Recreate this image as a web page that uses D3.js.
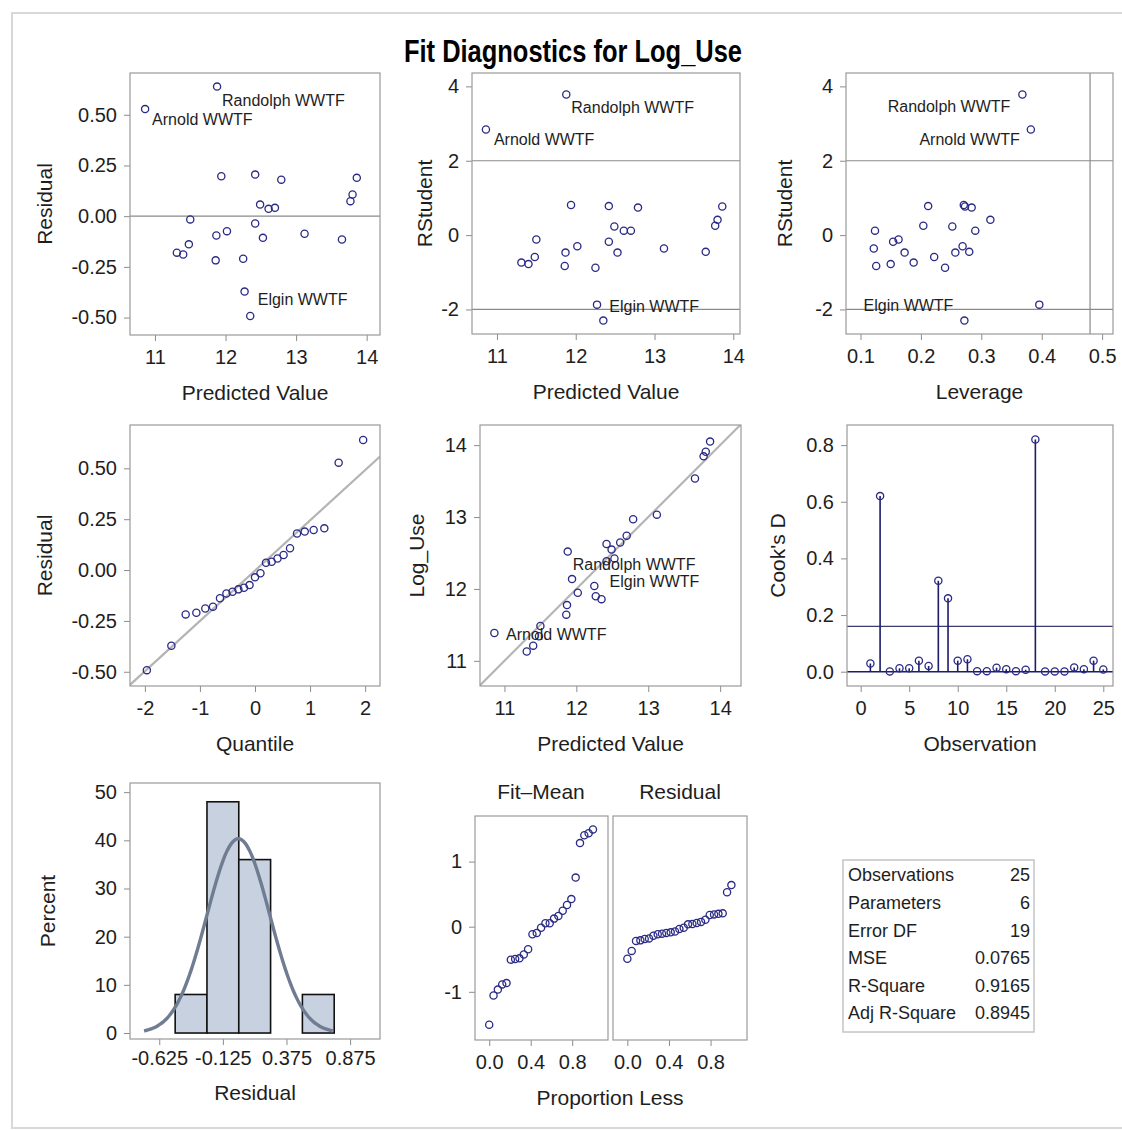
<!DOCTYPE html>
<html><head><meta charset="utf-8">
<script src="https://cdn.jsdelivr.net/npm/d3@7"></script>
<style>
body{margin:0;background:#fff;}
svg text{font-family:"Liberation Sans",Arial,Helvetica,sans-serif;fill:#1e1e1e;}
</style></head><body>
<svg id="chart" width="1122" height="1130"></svg>
<script>
// ---------------- DATA ----------------
// observations ordered by predicted value
const siteLabels = ["Arnold WWTF","","","","","","","Randolph WWTF","","","","","Elgin WWTF","","","","","","","","","","","",""];
const predicted = [10.86, 11.31, 11.40, 11.48, 11.50, 11.87, 11.86, 11.88, 11.94, 12.02, 12.25, 12.27, 12.35, 12.42, 12.42, 12.49, 12.53, 12.61, 12.70, 12.79, 13.12, 13.65, 13.77, 13.80, 13.86];
const residual  = [0.528, -0.180, -0.189, -0.139, -0.016, -0.095, -0.218, 0.639, 0.197, -0.074, -0.210, -0.372, -0.492, -0.036, 0.205, 0.057, -0.107, 0.036, 0.041, 0.180, -0.087, -0.115, 0.074, 0.107, 0.189];
const rstudent  = [2.84, -0.74, -0.78, -0.59, -0.12, -0.47, -0.83, 3.78, 0.81, -0.30, -0.88, -1.87, -2.30, -0.18, 0.78, 0.23, -0.47, 0.12, 0.12, 0.74, -0.36, -0.45, 0.25, 0.41, 0.77];
const leverage  = [0.382, 0.188, 0.150, 0.222, 0.163, 0.173, 0.126, 0.368, 0.271, 0.269, 0.240, 0.396, 0.272, 0.154, 0.212, 0.252, 0.257, 0.290, 0.124, 0.284, 0.122, 0.280, 0.204, 0.315, 0.273];
// Cook's D by observation number
const observationNo = [1,2,3,4,5,6,7,8,9,10,11,12,13,14,15,16,17,18,19,20,21,22,23,24,25];
const cooksD = [0.029, 0.620, 0.001, 0.012, 0.012, 0.039, 0.020, 0.321, 0.259, 0.039, 0.044, 0.002, 0.002, 0.014, 0.009, 0.002, 0.007, 0.820, 0.001, 0.001, 0.001, 0.015, 0.009, 0.039, 0.008];
// normal quantiles (Blom) for n = 25 as plotted
const normalQuantiles = [-1.964,-1.519,-1.259,-1.065,-0.903,-0.763,-0.636,-0.519,-0.408,-0.302,-0.200,-0.099,0,0.099,0.200,0.302,0.408,0.519,0.636,0.763,0.903,1.065,1.259,1.519,1.964];
const cooksThreshold = 0.16;
const rstudentLimits = [-2, 2];
const leverageCutoff = 0.48;
const histBinEdges = [-0.5, -0.25, 0, 0.25, 0.5, 0.75];
const histTickValues = [-0.625, -0.125, 0.375, 0.875];
const statLabels = ["Observations","Parameters","Error DF","MSE","R-Square","Adj R-Square"];
const statValues = ["25","6","19","0.0765","0.9165","0.8945"];
const titleText = "Fit Diagnostics for Log_Use";

// ---------------- DRAWING ----------------
const svg = d3.select('#chart');
const MARK = '#2a2a86';
const FRAME = '#9a9a9a';
const TICK_FS = 20, LABEL_FS = 21;
let clipN = 0;
const fx = n => d => d.toFixed(n);

// outer border
svg.append('rect').attr('x',12).attr('y',13).attr('width',1130).attr('height',1115)
  .attr('fill','none').attr('stroke','#d8d8d8').attr('stroke-width',2);

svg.append('text').attr('x',573).attr('y',62).attr('text-anchor','middle')
  .attr('font-size',31).attr('font-weight','bold').attr('textLength',338).attr('lengthAdjust','spacingAndGlyphs')
  .style('fill','#000').text(titleText);

function panel(c){
  const g = svg.append('g');
  const x = d3.scaleLinear().domain(c.xd).range([c.x0,c.x1]);
  const y = d3.scaleLinear().domain(c.yd).range([c.y1,c.y0]);
  const id = 'clip'+(clipN++);
  svg.append('clipPath').attr('id',id).append('rect')
    .attr('x',c.x0).attr('y',c.y0).attr('width',c.x1-c.x0).attr('height',c.y1-c.y0);
  const content = g.append('g').attr('clip-path',`url(#${id})`);
  const ax = g.append('g').attr('transform',`translate(0,${c.y1})`)
    .call(d3.axisBottom(x).tickValues(c.xt).tickFormat(c.xf).tickSize(6).tickPadding(c.xpad||9));
  styleAxis(ax);
  if(c.yt){
    const ay = g.append('g').attr('transform',`translate(${c.x0},0)`)
      .call(d3.axisLeft(y).tickValues(c.yt).tickFormat(c.yf).tickSize(6).tickPadding(7));
    styleAxis(ay);
  }
  g.append('rect').attr('x',c.x0).attr('y',c.y0).attr('width',c.x1-c.x0).attr('height',c.y1-c.y0)
    .attr('fill','none').attr('stroke',FRAME).attr('stroke-width',1.2);
  if(c.xl) g.append('text').attr('x',(c.x0+c.x1)/2).attr('y',c.y1+(c.xlo||58)).attr('dy','0.35em')
    .attr('text-anchor','middle').attr('font-size',LABEL_FS).text(c.xl);
  if(c.yl) g.append('text').attr('transform',`translate(${c.ylx},${(c.y0+c.y1)/2}) rotate(-90)`)
    .attr('dy','0.35em').attr('text-anchor','middle').attr('font-size',LABEL_FS).text(c.yl);
  return {g, content, x, y};
}
function styleAxis(a){
  a.attr('font-size',TICK_FS).attr('font-family',null);
  a.select('.domain').remove();
  a.selectAll('.tick line').attr('stroke','#8c8c8c');
  a.selectAll('.tick text').style('fill','#1e1e1e');
}
function hline(p, v, color, w){
  p.content.append('line').attr('x1',p.x.range()[0]).attr('x2',p.x.range()[1])
    .attr('y1',p.y(v)).attr('y2',p.y(v)).attr('stroke',color).attr('stroke-width',w||1);
}
function vline(p, v, color, w){
  p.content.append('line').attr('y1',p.y.range()[0]).attr('y2',p.y.range()[1])
    .attr('x1',p.x(v)).attr('x2',p.x(v)).attr('stroke',color).attr('stroke-width',w||1);
}
function markers(p, xs, ys){
  p.g.append('g').selectAll('circle').data(xs).join('circle')
    .attr('cx',(d,i)=>p.x(xs[i])).attr('cy',(d,i)=>p.y(ys[i])).attr('r',3.6)
    .attr('fill','none').attr('stroke',MARK).attr('stroke-width',1.3);
}
function pointLabels(p, xs, ys, offs){
  siteLabels.forEach((s,i)=>{
    if(!s) return;
    const o = offs[s];
    p.g.append('text').attr('x',p.x(xs[i])+o[0]).attr('y',p.y(ys[i])+o[1]).attr('dy','0.35em')
      .attr('text-anchor',o[2]).attr('font-size',16).text(s);
  });
}

const resTicks = [-0.5,-0.25,0,0.25,0.5];
const predTicks = [11,12,13,14];

// Panel 1: Residual vs Predicted
const p1 = panel({x0:130,x1:380,y0:73,y1:335,xd:[10.646,14.189],yd:[-0.586,0.706],
  xt:predTicks,xf:fx(0),yt:resTicks,yf:fx(2),xl:'Predicted Value',yl:'Residual',ylx:45});
hline(p1,0,'#8a8a8a',1.2);
markers(p1,predicted,residual);
pointLabels(p1,predicted,residual,{"Arnold WWTF":[7,10,'start'],"Randolph WWTF":[5,14,'start'],"Elgin WWTF":[7.5,-16.6,'start']});

// Panel 2: RStudent vs Predicted
const p2 = panel({x0:472,x1:740,y0:73,y1:334,xd:[10.683,14.085],yd:[-2.66,4.36],
  xt:predTicks,xf:fx(0),yt:[-2,0,2,4],yf:fx(0),xl:'Predicted Value',yl:'RStudent',ylx:425});
rstudentLimits.forEach(v=>hline(p2,v,'#8a8a8a',1.2));
markers(p2,predicted,rstudent);
pointLabels(p2,predicted,rstudent,{"Arnold WWTF":[8,10,'start'],"Randolph WWTF":[5,13,'start'],"Elgin WWTF":[6,-14.6,'start']});

// Panel 3: RStudent vs Leverage
const p3 = panel({x0:846,x1:1113,y0:73,y1:334,xd:[0.076,0.518],yd:[-2.66,4.36],
  xt:[0.1,0.2,0.3,0.4,0.5],xf:fx(1),yt:[-2,0,2,4],yf:fx(0),xl:'Leverage',yl:'RStudent',ylx:785});
rstudentLimits.forEach(v=>hline(p3,v,'#8a8a8a',1.2));
vline(p3,leverageCutoff,'#8a8a8a',1.2);
markers(p3,leverage,rstudent);
pointLabels(p3,leverage,rstudent,{"Arnold WWTF":[-11,9.5,'end'],"Randolph WWTF":[-12,12,'end'],"Elgin WWTF":[-11,-15,'end']});

// Panel 4: QQ plot of residuals
const sortedRes = residual.slice().sort(d3.ascending);
const p4 = panel({x0:130,x1:380,y0:425,y1:686,xd:[-2.27,2.27],yd:[-0.570,0.713],
  xt:[-2,-1,0,1,2],xf:fx(0),yt:resTicks,yf:fx(2),xl:'Quantile',yl:'Residual',ylx:45});
const rMean = d3.mean(residual), rSd = d3.deviation(residual);
p4.content.append('line').attr('x1',p4.x(-2.27)).attr('x2',p4.x(2.27))
  .attr('y1',p4.y(rMean-2.27*rSd)).attr('y2',p4.y(rMean+2.27*rSd)).attr('stroke','#b4b4b4').attr('stroke-width',2.2);
markers(p4,normalQuantiles,sortedRes);

// Panel 5: Observed vs Predicted
const observed = predicted.map((d,i)=>d+residual[i]);
const p5 = panel({x0:480,x1:741,y0:425,y1:686,xd:[10.66,14.29],yd:[10.65,14.28],
  xt:predTicks,xf:fx(0),yt:predTicks,yf:fx(0),xl:'Predicted Value',yl:'Log_Use',ylx:417});
p5.content.append('line').attr('x1',p5.x(10.6)).attr('y1',p5.y(10.6)).attr('x2',p5.x(14.3)).attr('y2',p5.y(14.3))
  .attr('stroke','#b4b4b4').attr('stroke-width',2.2);
markers(p5,predicted,observed);
pointLabels(p5,predicted,observed,{"Arnold WWTF":[11.6,1,'start'],"Randolph WWTF":[5,12.5,'start'],"Elgin WWTF":[8,-17.7,'start']});

// Panel 6: Cook's D
const p6 = panel({x0:847,x1:1113,y0:425,y1:686,xd:[-1.41,26.0],yd:[-0.0505,0.871],
  xt:[0,5,10,15,20,25],xf:fx(0),yt:[0,0.2,0.4,0.6,0.8],yf:fx(1),xl:'Observation',yl:"Cook's D",ylx:778});
hline(p6,cooksThreshold,'#3c3c6e',1.2);
hline(p6,0,'#1c1c6a',1.6);
p6.content.append('g').selectAll('line').data(cooksD).join('line')
  .attr('x1',(d,i)=>p6.x(observationNo[i])).attr('x2',(d,i)=>p6.x(observationNo[i]))
  .attr('y1',p6.y(0)).attr('y2',d=>p6.y(d)).attr('stroke','#1c1c6a').attr('stroke-width',1.6);
markers(p6,observationNo,cooksD);

// Panel 7: histogram of residuals
const bins = d3.bin().domain([histBinEdges[0],histBinEdges[histBinEdges.length-1]]).thresholds(histBinEdges.slice(1,-1))(residual);
const p7 = panel({x0:130,x1:380,y0:783,y1:1039,xd:[-0.855,1.11],yd:[-1.24,51.9],
  xt:histTickValues,xf:fx(3),yt:[0,10,20,30,40,50],yf:fx(0),xl:'Residual',yl:'Percent',ylx:48,xlo:54,xpad:6});
p7.content.append('g').selectAll('rect').data(bins).join('rect')
  .attr('x',d=>p7.x(d.x0)).attr('width',d=>p7.x(d.x1)-p7.x(d.x0))
  .attr('y',d=>p7.y(d.length/residual.length*100)).attr('height',d=>p7.y(0)-p7.y(d.length/residual.length*100))
  .attr('fill','#c8d1df').attr('stroke','#111').attr('stroke-width',1.6);
const binW = histBinEdges[1]-histBinEdges[0];
const curveX = d3.range(rMean-3*rSd, rMean+3*rSd+1e-9, rSd/20);
const dens = v => 100*binW*Math.exp(-0.5*((v-rMean)/rSd)**2)/(rSd*Math.sqrt(2*Math.PI));
p7.content.append('path').datum(curveX)
  .attr('d',d3.line().x(v=>p7.x(v)).y(v=>p7.y(dens(v))).curve(d3.curveBasis))
  .attr('fill','none').attr('stroke','#6f7c92').attr('stroke-width',3.4);

// Panel 8: residual-fit spread plot
const n = predicted.length;
const predMean = d3.mean(predicted);
const fitMinusMean = predicted.map(d=>d-predMean).sort(d3.ascending);
const propLess = d3.range(n).map(i=>i/(n-1));
const p8a = panel({x0:475,x1:608,y0:816,y1:1040,xd:[-0.137,1.145],yd:[-1.74,1.70],
  xt:[0,0.4,0.8],xf:fx(1),yt:[-1,0,1],yf:fx(0)});
markers(p8a,propLess,fitMinusMean);
const p8b = panel({x0:613,x1:747,y0:816,y1:1040,xd:[-0.138,1.15],yd:[-1.74,1.70],
  xt:[0,0.4,0.8],xf:fx(1)});
markers(p8b,propLess,sortedRes);
svg.append('text').attr('x',541).attr('y',792).attr('dy','0.35em').attr('text-anchor','middle').attr('font-size',LABEL_FS).text('Fit–Mean');
svg.append('text').attr('x',680).attr('y',792).attr('dy','0.35em').attr('text-anchor','middle').attr('font-size',LABEL_FS).text('Residual');
svg.append('text').attr('x',610).attr('y',1098).attr('dy','0.35em').attr('text-anchor','middle').attr('font-size',LABEL_FS).text('Proportion Less');

// Stats table
const tb = svg.append('g');
tb.append('rect').attr('x',843).attr('y',860).attr('width',191).attr('height',172)
  .attr('fill','#fff').attr('stroke','#c4c4c4').attr('stroke-width',1.5);
statLabels.forEach((s,i)=>{
  const yy = 875 + i*27.6;
  tb.append('text').attr('x',848).attr('y',yy).attr('dy','0.35em').attr('font-size',18).text(s);
  tb.append('text').attr('x',1030).attr('y',yy).attr('dy','0.35em').attr('text-anchor','end').attr('font-size',18).text(statValues[i]);
});
</script>
</body></html>
